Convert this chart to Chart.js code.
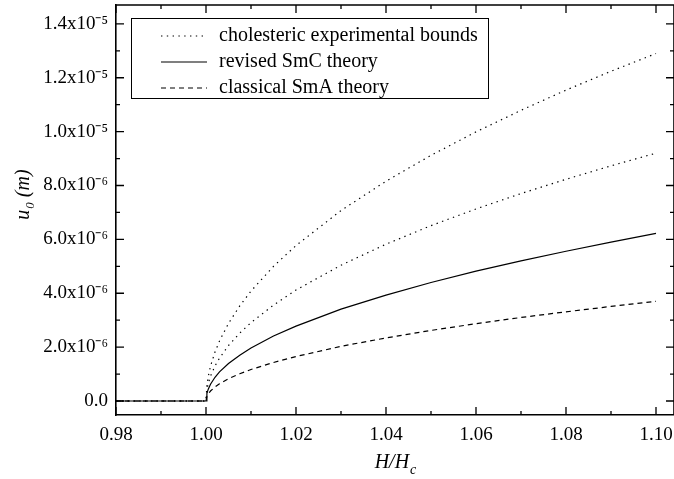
<!DOCTYPE html>
<html><head><meta charset="utf-8">
<script src="https://cdn.jsdelivr.net/npm/chart.js@4/dist/chart.umd.min.js"></script>
<style>html,body{margin:0;padding:0;background:#fff}</style>
</head><body>
<canvas id="c" width="674" height="479" style="width:674px;height:479px;display:block"></canvas>
<script>
// ---- data ----
const hRatio = [0.98, 1.00, 1.0002, 1.0005, 1.001, 1.002, 1.003, 1.005, 1.0075, 1.01, 1.015, 1.02, 1.03, 1.04, 1.05, 1.06, 1.07, 1.08, 1.09, 1.10];
const cholestericUpper = [0, 0, 0.58e-6, 0.91e-6, 1.29e-6, 1.82e-6, 2.23e-6, 2.88e-6, 3.53e-6, 4.08e-6, 5.00e-6, 5.77e-6, 7.07e-6, 8.16e-6, 9.12e-6, 9.99e-6, 1.079e-5, 1.154e-5, 1.224e-5, 1.290e-5];
const cholestericLower = [0, 0, 0.41e-6, 0.65e-6, 0.92e-6, 1.30e-6, 1.59e-6, 2.06e-6, 2.52e-6, 2.91e-6, 3.56e-6, 4.12e-6, 5.04e-6, 5.82e-6, 6.51e-6, 7.13e-6, 7.70e-6, 8.23e-6, 8.73e-6, 9.20e-6];
const revisedSmC = [0, 0, 0.28e-6, 0.44e-6, 0.62e-6, 0.88e-6, 1.08e-6, 1.39e-6, 1.70e-6, 1.97e-6, 2.41e-6, 2.78e-6, 3.41e-6, 3.93e-6, 4.40e-6, 4.82e-6, 5.20e-6, 5.56e-6, 5.90e-6, 6.22e-6];
const classicalSmA = [0, 0, 0.17e-6, 0.26e-6, 0.37e-6, 0.52e-6, 0.64e-6, 0.83e-6, 1.01e-6, 1.17e-6, 1.43e-6, 1.65e-6, 2.03e-6, 2.34e-6, 2.62e-6, 2.87e-6, 3.10e-6, 3.31e-6, 3.51e-6, 3.70e-6];
const seriesLabels = ['cholesteric experimental bounds', 'revised SmC theory', 'classical SmA theory'];
const xTickValues = [0.98, 1.00, 1.02, 1.04, 1.06, 1.08, 1.10];
const xTickLabels = ['0.98', '1.00', '1.02', '1.04', '1.06', '1.08', '1.10'];
const xMinorValues = [0.99, 1.01, 1.03, 1.05, 1.07, 1.09];
const yTickValues = [0, 2e-6, 4e-6, 6e-6, 8e-6, 1e-5, 1.2e-5, 1.4e-5];
const yTickLabels = ['0.0', '2.0x10⁻⁶', '4.0x10⁻⁶', '6.0x10⁻⁶', '8.0x10⁻⁶', '1.0x10⁻⁵', '1.2x10⁻⁵', '1.4x10⁻⁵'];
const yMinorValues = [1e-6, 3e-6, 5e-6, 7e-6, 9e-6, 1.1e-5, 1.3e-5];
const xTitle = ['H/H', 'c'];
const yTitle = ['u', '0', ' (m)'];

const FONT = '"Liberation Serif", "Times New Roman", serif';
const toPts = ys => hRatio.map((x, i) => ({x: x, y: ys[i]}));
const dotDash = [1.4, 4.4];
const dashDash = [5, 4];

const decor = {
  id: 'decor',
  afterDraw(chart) {
    const ctx = chart.ctx, a = chart.chartArea;
    const xs = chart.scales.x, ys = chart.scales.y;
    ctx.save();
    ctx.strokeStyle = '#000';
    ctx.lineWidth = 1.6;
    ctx.beginPath();
    ctx.moveTo(a.left, a.top); ctx.lineTo(a.right, a.top);
    ctx.moveTo(a.right, a.top); ctx.lineTo(a.right, a.bottom);
    ctx.stroke();
    ctx.lineWidth = 1.3;
    ctx.beginPath();
    const tx = (v, len) => { const p = xs.getPixelForValue(v);
      ctx.moveTo(p, a.bottom); ctx.lineTo(p, a.bottom - len);
      ctx.moveTo(p, a.top); ctx.lineTo(p, a.top + len); };
    const ty = (v, len) => { const p = ys.getPixelForValue(v);
      ctx.moveTo(a.left, p); ctx.lineTo(a.left + len, p);
      ctx.moveTo(a.right, p); ctx.lineTo(a.right - len, p); };
    xTickValues.forEach(v => tx(v, 8));
    xMinorValues.forEach(v => tx(v, 4));
    yTickValues.forEach(v => ty(v, 8));
    yMinorValues.forEach(v => ty(v, 4));
    ctx.stroke();
    // legend
    ctx.lineWidth = 1;
    ctx.strokeRect(131.5, 18.5, 357, 80);
    const rows = [36, 62, 88];
    const dashes = [dotDash, [], dashDash];
    ctx.font = '20px ' + FONT;
    ctx.fillStyle = '#000';
    ctx.textBaseline = 'middle';
    ctx.textAlign = 'left';
    rows.forEach((y, i) => {
      ctx.save();
      ctx.lineWidth = 1.2;
      ctx.setLineDash(dashes[i]);
      ctx.beginPath(); ctx.moveTo(161, y); ctx.lineTo(207, y); ctx.stroke();
      ctx.restore();
      ctx.fillText(seriesLabels[i], 219, y);
    });
    // x title
    ctx.textBaseline = 'alphabetic';
    ctx.font = 'italic 20px ' + FONT;
    const w1 = ctx.measureText(xTitle[0]).width;
    ctx.font = 'italic 14px ' + FONT;
    const w2 = ctx.measureText(xTitle[1]).width;
    let x0 = (a.left + a.right) / 2 - (w1 + w2) / 2;
    ctx.font = 'italic 20px ' + FONT;
    ctx.fillText(xTitle[0], x0, 468);
    ctx.font = 'italic 14px ' + FONT;
    ctx.fillText(xTitle[1], x0 + w1 + 1, 474);
    // y title
    ctx.save();
    ctx.translate(29, 195);
    ctx.rotate(-Math.PI / 2);
    ctx.font = 'italic 20px ' + FONT;
    const u1 = ctx.measureText(yTitle[0]).width;
    const u3 = ctx.measureText(yTitle[2]).width;
    ctx.font = 'italic 13px ' + FONT;
    const u2 = ctx.measureText(yTitle[1]).width;
    let s = -(u1 + u2 + u3) / 2;
    ctx.font = 'italic 20px ' + FONT;
    ctx.fillText(yTitle[0], s, 0);
    ctx.font = 'italic 13px ' + FONT;
    ctx.fillText(yTitle[1], s + u1 + 1, 5);
    ctx.font = 'italic 20px ' + FONT;
    ctx.fillText(yTitle[2], s + u1 + u2 + 1, 0);
    ctx.restore();
    ctx.restore();
  }
};

const lineDs = (label, ys, dash) => ({
  label: label, data: toPts(ys), borderColor: '#000', borderWidth: 1.2,
  borderDash: dash, pointRadius: 0, fill: false, tension: 0.0, showLine: true
});

new Chart(document.getElementById('c'), {
  type: 'scatter',
  data: { datasets: [
    lineDs(seriesLabels[0], cholestericUpper, dotDash),
    lineDs(seriesLabels[0], cholestericLower, dotDash),
    lineDs(seriesLabels[1], revisedSmC, []),
    lineDs(seriesLabels[2], classicalSmA, dashDash)
  ]},
  options: {
    responsive: false, animation: false, devicePixelRatio: 1,
    layout: { padding: { top: 5, right: 0, left: 0, bottom: 0 } },
    plugins: { legend: { display: false }, tooltip: { enabled: false } },
    scales: {
      x: {
        type: 'linear', min: 0.98, max: 1.104,
        grid: { display: false, drawTicks: false },
        border: { display: true, color: '#000', width: 1.6 },
        afterBuildTicks: sc => { sc.ticks = xTickValues.map(v => ({value: v})); },
        afterFit: sc => { sc.height = 64; sc.paddingLeft = 0; sc.paddingRight = 0; },
        ticks: { autoSkip: false, maxRotation: 0, padding: 9, color: '#000',
          font: { family: FONT, size: 19 },
          callback: (v, i) => xTickLabels[i] }
      },
      y: {
        type: 'linear', min: -5.2e-7, max: 1.47e-5,
        grid: { display: false, drawTicks: false },
        border: { display: true, color: '#000', width: 1.6 },
        afterBuildTicks: sc => { sc.ticks = yTickValues.map(v => ({value: v})); },
        afterFit: sc => { sc.width = 116; sc.paddingTop = 0; sc.paddingBottom = 0; },
        ticks: { autoSkip: false, padding: 8, color: '#000',
          font: { family: FONT, size: 19 },
          callback: (v, i) => yTickLabels[i] }
      }
    }
  },
  plugins: [decor]
});
</script>
</body></html>
